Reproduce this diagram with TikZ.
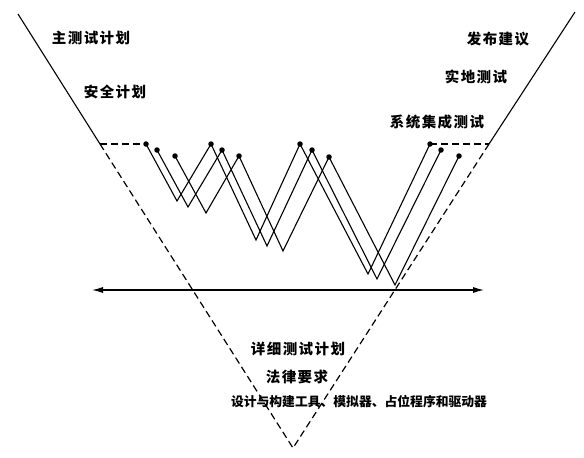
\documentclass[tikz,border=0pt]{standalone}
\usepackage{fontspec}
\newfontfamily\cjk{Noto Sans CJK SC}
\newfontfamily\cjkw{Noto Sans CJK SC}[LetterSpace=10]
\usetikzlibrary{arrows.meta}
\begin{document}
\begin{tikzpicture}[x=1pt,y=-1pt,
  edge/.style={line width=1.1pt,black},
  dashedge/.style={line width=1.2pt,black,dash pattern=on 7pt off 4pt},
  dotpt/.style={circle,fill=black,inner sep=0pt,minimum size=5.5pt},
  lbl/.style={font=\cjkw\bfseries\fontsize{14.5}{16}\selectfont,inner sep=0pt},
  lblb/.style={font=\cjk\bfseries\fontsize{12.8}{15}\selectfont,inner sep=0pt}]
\useasboundingbox (0,0) rectangle (584,458);
% V frame
\coordinate (LT) at (18,14);
\coordinate (LM) at (100,144);
\coordinate (RT) at (575,12);
\coordinate (RM) at (489,144);
\coordinate (V) at (293,448);
\draw[edge] (LT) -- (LM);
\draw[edge] (RT) -- (RM);
\draw[dashedge] (LM) -- (V);
\draw[dashedge] (RM) -- (V);
% zigzag line 1
\node[dotpt] (a0) at (146,144) {};
\coordinate (a1) at (177,201);
\node[dotpt] (a2) at (211,144) {};
\coordinate (a3) at (256,240);
\node[dotpt] (a4) at (300,144) {};
\coordinate (a5) at (368,274);
\node[dotpt] (a6) at (430,144) {};
% zigzag line 2
\node[dotpt] (b0) at (157,150) {};
\coordinate (b1) at (188,207);
\node[dotpt] (b2) at (222,150) {};
\coordinate (b3) at (267,246);
\node[dotpt] (b4) at (312,150) {};
\coordinate (b5) at (377,279);
\node[dotpt] (b6) at (441,150) {};
% zigzag line 3
\node[dotpt] (c0) at (175,156) {};
\coordinate (c1) at (206,213);
\node[dotpt] (c2) at (239,156) {};
\coordinate (c3) at (283,251);
\node[dotpt] (c4) at (329,157) {};
\coordinate (c5) at (395,285);
\node[dotpt] (c6) at (459,156) {};
\draw[edge,line join=miter] (a0.center) -- (a1) -- (a2.center) -- (a3) -- (a4.center) -- (a5) -- (a6.center);
\draw[edge,line join=miter] (b0.center) -- (b1) -- (b2.center) -- (b3) -- (b4.center) -- (b5) -- (b6.center);
\draw[edge,line join=miter] (c0.center) -- (c1) -- (c2.center) -- (c3) -- (c4.center) -- (c5) -- (c6.center);
% dashed horizontals
\draw[dashedge] (LM) -- (a0.center);
\draw[dashedge] (a6.center) -- (RM);
% double arrow
\coordinate (HL) at (92,290);
\coordinate (HR) at (484,290);
\draw[edge,{Latex[length=11pt,width=6pt]}-{Latex[length=11pt,width=6pt]}] (HL) -- (HR);
% labels
\node[lbl] (t1) at (91,38) {主测试计划};
\node[lbl] (t2) at (115,92) {安全计划};
\node[lbl] (t3) at (498,39) {发布建议};
\node[lbl] (t4) at (476,77) {实地测试};
\node[lbl] (t5) at (437,122) {系统集成测试};
\node[lbl] (t6) at (298,349) {详细测试计划};
\node[lbl] (t7) at (297,377) {法律要求};
\node[lblb] (t8) at (359,402) {设计与构建工具、模拟器、占位程序和驱动器};
\end{tikzpicture}
\end{document}
